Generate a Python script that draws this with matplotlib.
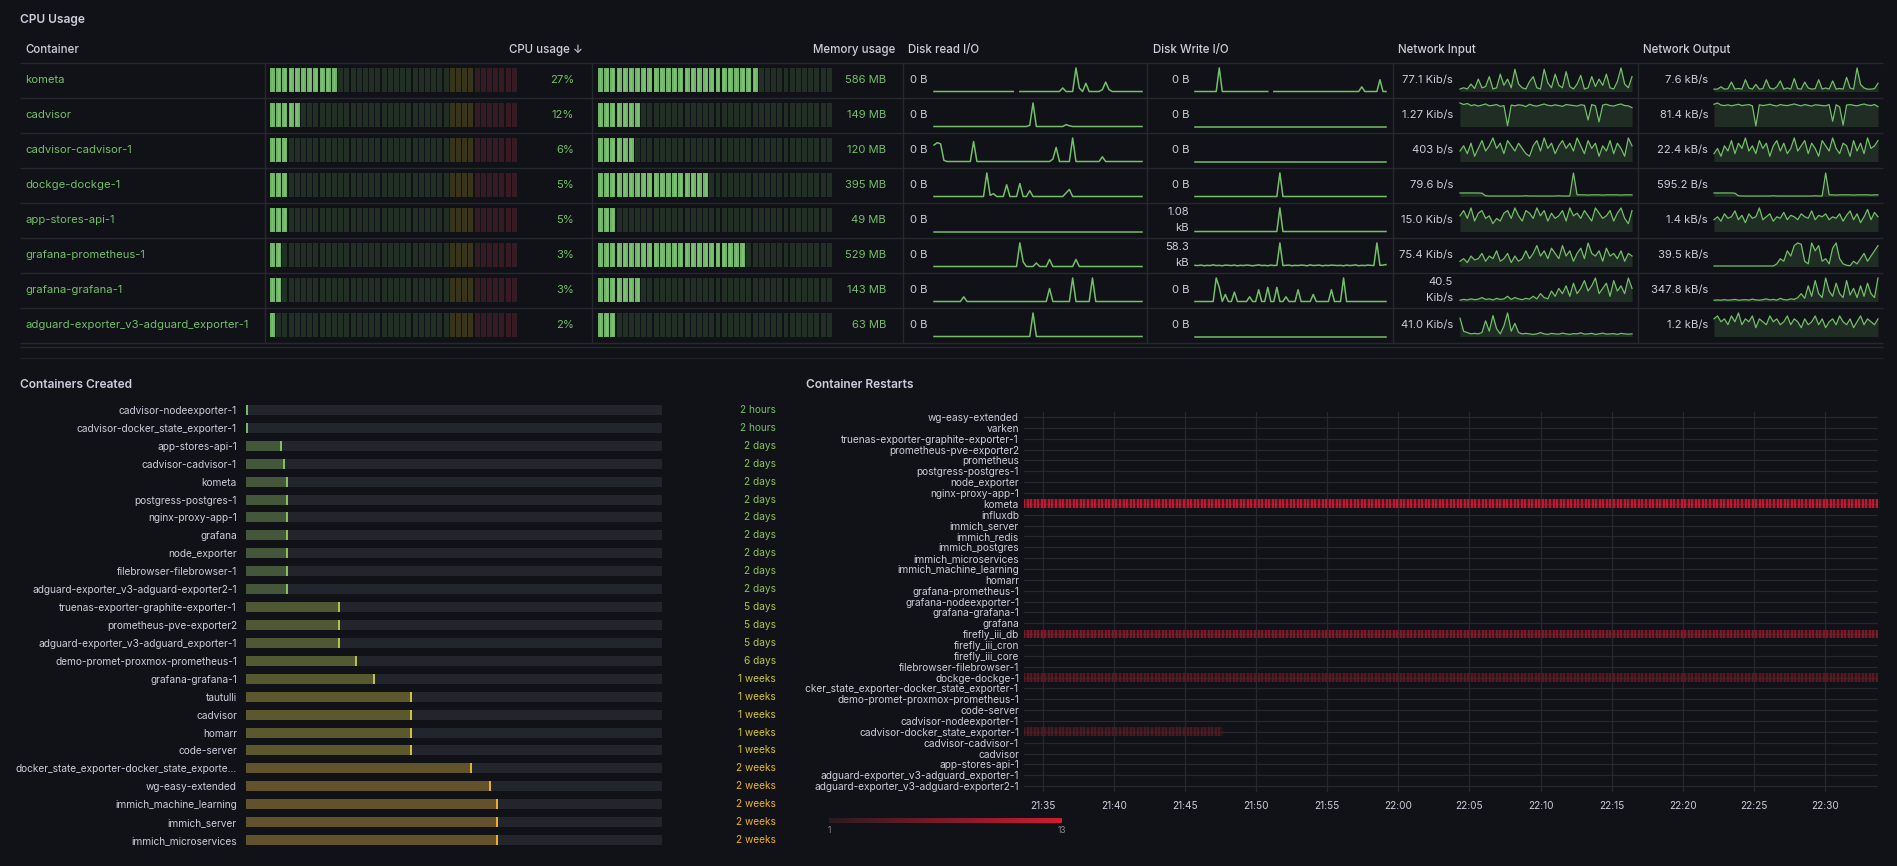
import matplotlib
matplotlib.use('Agg')
import matplotlib.pyplot as plt
import matplotlib.dates as mdates
from matplotlib.colors import LinearSegmentedColormap, Normalize
from matplotlib.cm import ScalarMappable
from matplotlib.transforms import Bbox, blended_transform_factory
import numpy as np

nan = np.nan

# ---------------- data: CPU Usage table ----------------
containers = ['kometa', 'cadvisor', 'cadvisor-cadvisor-1', 'dockge-dockge-1', 'app-stores-api-1',
              'grafana-prometheus-1', 'grafana-grafana-1', 'adguard-exporter_v3-adguard_exporter-1']
cpu_pct = [27, 12, 6, 5, 5, 3, 3, 2]
mem_mb = [586, 149, 120, 395, 49, 529, 143, 63]
mem_max_mb = 860
disk_read_txt = ['0 B', '0 B', '0 B', '0 B', '0 B', '0 B', '0 B', '0 B']
disk_write_txt = ['0 B', '0 B', '0 B', '0 B', '1.08\nkB', '58.3\nkB', '0 B', '0 B']
net_in_txt = ['77.1 Kib/s', '1.27 Kib/s', '403 b/s', '79.6 b/s', '15.0 Kib/s', '75.4 Kib/s',
              '40.5\nKib/s', '41.0 Kib/s']
net_out_txt = ['7.6 kB/s', '81.4 kB/s', '22.4 kB/s', '595.2 B/s', '1.4 kB/s', '39.5 kB/s',
               '347.8 kB/s', '1.2 kB/s']

disk_read = [
    [0,0,0,0,0,0,0,0,0,0,0,0,0,0,0,0, 0,0,0,0,0,0,0,0,0,nan,0,0,0,0,0,0,
     0,0,0,0,0,0,0,1.5,0,0,0,10,1.5,0,3.5,0, 0,0,0,0.8,4,0.8,0,0,0,0,0,0,0,0,0,0],
    [0,0,0,0,0,0,0,0,0,0,0,0,0,0,0,0, 0,0,0,0,0,0,0,0,0,0,0,0,0,0.5,10,0,
     0,0,0,0,0,0,0,0,0.8,0.3,0,0,0,0,0,0, 0,0,0,0,0,0,0,0,0,0,0,0,0,0,0,0],
    [7,8,7.5,0.5,0,0,0,0,0,0,0,0,8.5,0,0,0, 0,0,0,0,0,0,0,0,0,0,0,0,0,0,0,0,
     0,0,0,0,1,6,0,0,0,0,10,0,0,0,0,0, 0,0,0,2,0,0,0,0,0,0,0,0,0,0,0,0],
    [0,0,0,0,0,0,0,0,0,0,0,0,0,0,0,0, 10,0.5,1.2,0,0,0,5,0,0,0,5.5,0,0,2.5,0,0,
     0,0,0,0,0,0,0,0,1.5,3,0,0,0,0,0,0, 0,0,0,0,0,0,0,0,0,0,0,0,0,0,0,0],
    [0,0,0,0,0,0,0,0,0,0,0,0,0,0,0,0, 0,0,0,0,0,0,0,0,0,0,0,0,0,0,0,0,
     0,0,0,0,0,0,0,0,0,0,0,0,0,0,0,0, 0,0,0,0,0,0,0,0,0,0,0,0,0,0,0,0],
    [0,0,0,0,0,0,0,0,0,0,0,0,0,0,0,0, 0,0,0,0,0,0,0,0,0,0,10,2,0,0,0,1.5,
     0,0,0,3,0,0,0,0,0,0,0,3,0,0,0,0, 0,0,0,0,0,0,0,0,0,0,0,0,0,0,0,0],
    [0,0,0,0,0,0,0,0,0,2,0,0,0,0,0,0, 0,0,0,0,0,0,0,0,0,0,0,0,0,0,0,0,
     0,0,0,5.5,0,0,0,0,0,0,10,0,0,0,0,0, 10,0,0,0,0,0,0,0,0,0,0,0,0,0,0,0],
    [0,0,0,0,0,0,0,0,0,0,0,0,0,0,0,0, 0,0,0,0,0,0,0,0,0,0,0,0,0,0,10,0,
     0,0,0,0,0,0,0,0,0,0,0,0,0,0,0,0, 0,0,0,0,0,0,0,0,0,0,0,0,0,0,0,0],
]
disk_write = [
    [0,0,0,0,0,0,0,0,10,0,0,0,0,0,0,0, 0,0,0,0,0,0,0,0,0,nan,0,0,0,0,0,0,
     0,0,0,0,0,0,0,0,0,0,0,0,0,0,0,0, 0,0,0,0,0,0,0,2,0,0,0,0,0,5,0,0],
    [0,0,0,0,0,0,0,0,0,0,0,0,0,0,0,0, 0,0,0,0,0,0,0,0,0,0,0,0,0,0,0,0,
     0,0,0,0,0,0,0,0,0,0,0,0,0,0,0,0, 0,0,0,0,0,0,0,0,0,0,0,0,0,0,0,0],
    [0,0,0,0,0,0,0,0,0,0,0,0,0,0,0,0, 0,0,0,0,0,0,0,0,0,0,0,0,0,0,0,0,
     0,0,0,0,0,0,0,0,0,0,0,0,0,0,0,0, 0,0,0,0,0,0,0,0,0,0,0,0,0,0,0,0],
    [0,0,0,0,0,0,0,0,0,0,0,0,0,0,0,0, 0,0,0,0,0,0,0,0,0,0,0,0,10,0,0,0,
     0,0,0,0,0,0,0,0,0,0,0,0,0,0,0,0, 0,0,0,0,0,0,0,0,0,0,0,0,0,0,0,0],
    [0,0,0,0,0,0,0,0,0,0,0,0,0,0,0,0, 0,0,0,0,0,0,0,0,0,0,0,0,10,0,0,0,
     0,0,0,0,0,0,0,0,0,0,0,0,0,0,0,0, 0,0,0,0,0,0,0,0,0,0,0,0,0,0,0,0],
    [.5,.4,.6,.3,.5,.4,.7,.4,.5,.3,.6,.5,.4,.6,.3,.5, .4,.6,.5,.3,.5,.7,.4,.5,.3,.6,.4,.5,10,.4,.5,.6,
     .3,.5,.4,.6,.5,.3,.7,.4,.5,.6,.3,.5,.4,.6,.5,.4, .5,.3,.6,.4,.5,.7,.3,.5,.4,.6,.5,.4,10,.5,.6,.8],
    [0,0,0,0,0,0,0,10,6,0,3,0,0,4,0,0, 0,0,2,0,0,5,0,0,6,0,0,6,0,0,2,0,
     0,0,5,0,0,0,0,3,0,0,0,0,0,5,0,0, 0,10,0,0,0,0,0,0,0,0,0,0,0,0,0,0],
    [0,0,0,0,0,0,0,0,0,0,0,0,0,0,0,0, 0,0,0,0,0,0,0,0,0,0,0,0,0,0,0,0,
     0,0,0,0,0,0,0,0,0,0,0,0,0,0,0,0, 0,0,0,0,0,0,0,0,0,0,0,0,0,0,0,0],
]
net_in = [
    [1,1.5,1,3,1.2,5,1.5,2,6,1,1.5,7,2.5,5,1.5,9,3,1.5,1,4,6,1.5,1,9,3.5,1.5,7,2.5,1.5,8,2,1,
     3,6.5,1,1.5,6,2,5,2.5,7,1.5,1,4,9.5,3,1.5,6],
    [9,8.4,8.8,8,8.3,7.8,8.2,8.6,7.9,8.1,8.4,7.7,8,0.3,8.2,7.9,8.3,8.1,7.6,8.5,8,7.8,8.2,8.6,
     8.1,7.9,8.3,8,7.7,8.4,8.2,8,7.8,8.3,8.1,2.5,8.4,7.9,1.8,8.2,8.5,8,7.8,8.3,8.6,8,7.9,7.2],
    [4,6,3,7,2,5,8,4,6,9,5,7,3,8,6,4,7,5,3,2,6,8,4,9,5,7,3,6,8,5,7,4,9,6,3,8,5,7,2,6,4,8,3,7,5,2,9,6],
    [1.5,1.5,1.5,1.5,1.5,1.5,1.4,0.3,0.2,0.2,0.2,0.2,0.2,0.2,0.2,0.2,0.2,0.2,0.3,0.2,0.2,0.2,0.2,0.2,
     0.2,0.2,0.2,0.3,0.2,0.2,0.2,10,0.7,0.7,0.7,0.6,0.7,0.7,0.7,0.6,0.7,0.7,0.7,0.7,0.6,0.7,0.7,0.7],
    [6,8,5,9,4,7,8,5,6,3,5,4,7,8,5,9,6,4,8,7,5,9,6,8,4,7,5,6,8,4,9,6,7,5,8,6,4,9,7,5,6,8,4,7,9,5,3,8],
    [2,3,1.5,4,2.5,3,5,2,4,3,6,2,3,5,1.5,4,2,3,6,3,5,8,4,6,3,7,5,3,8,4,6,2,5,7,3,9,5,4,6,2,7,4,5,3,6,2,5,4],
    [0.5,0.8,0.6,1,0.7,0.9,1.5,0.8,1,0.6,1.2,0.8,1,2,0.8,1.5,1,0.7,1.2,0.9,2,1,3,1.5,
     1,4,2,5,3,6,2,7,3,5,8,4,6,9,3,5,7,2,8,4,6,3,9,5],
    [7,2,1.5,1,1.2,1,1.5,6,2,8,3,1,4,9,2,5,1.5,1,1.2,1,0.8,1,1.5,1,
     0.8,1.2,1,0.9,1.3,1,0.8,1.1,1,1.4,0.9,1,1.2,0.8,1,1.3,0.9,1,1.1,0.8,1.2,1,0.9,1],
]
net_out = [
    [1,1,2,1,1.2,4,1,1.3,1,5,1.5,1,3,1,1.2,5,1.5,1,2,4.5,1,1.5,1,5.5,1.2,1,4,1.5,1,1.2,5,1,
     1.5,1,4.5,1,1.3,1,6,1.5,1,10,3,1.5,1,1,1.2,3.5],
    [8.5,9,8.2,8,8.3,7.9,8.2,8.5,8,8.2,8.4,7.9,0.2,8.3,8,8.2,8.5,8.1,7.8,8.4,8.1,8,8.3,8.6,
     8.2,7.9,8.4,8.1,7.8,8.3,8.2,8,7.9,8.4,2,8.3,7.5,0.5,8.2,8.4,8.1,7.9,8.3,8.6,8.2,8,8.4,7.6],
    [3,5,2,6,4,8,3,7,5,9,4,6,3,8,5,7,2,6,8,4,7,3,5,9,4,6,8,3,7,5,2,8,6,4,9,5,3,7,6,2,8,4,7,3,9,5,6,8],
    [1.5,1.5,1.5,1.5,1.5,1.5,1.4,0.3,0.2,0.2,0.2,0.2,0.2,0.2,0.2,0.2,0.2,0.3,0.2,0.2,0.2,0.2,0.2,0.2,
     0.2,0.2,0.2,0.2,0.2,0.3,0.2,0.2,10,0.7,0.7,0.6,0.7,0.7,0.7,0.7,0.6,0.7,0.7,0.7,0.7,0.6,0.7,0.7],
    [4,5,3.5,6,4.5,5,7,4,5.5,3,6,4.5,5,8,4,5,6,3.5,5,4.5,6.5,4,5.5,5,
     4,6,5,4.5,7,4,5.5,5,6,4,5,4.5,6,3.5,5.5,7,4,6,3,5,7.5,4,6.5,5],
    [0.2,0.2,0.2,0.2,0.2,0.2,0.2,0.2,0.2,0.2,0.2,0.2,0.2,0.2,0.2,0.2,0.2,0.2,
     1,3,2,6,4,8,9,8.5,2,1,9,6,8,2,3,1,7,9,3,1,0.5,0.3,2,1,3,5,2,4,6,8],
    [0.5,0.6,0.5,0.7,0.5,0.6,0.8,0.5,0.6,0.7,0.5,0.9,0.6,0.5,0.7,1,0.6,0.8,0.5,1.2,0.7,0.6,1,0.8,
     1.5,3,1.2,6,2,8,3,1.5,9,4,2,7,3,1.5,8,2.5,5,1.5,6,2,7,3,1.5,9],
    [6,7,5,6,4,7,5,8,4,6,5,7,3,6,5,4,7,5,6,4,5,7,4,6,5,3,6,4,5,7,4,6,3,5,6,4,7,5,4,6,3,5,7,4,6,5,4,6],
]

# ---------------- data: Containers Created ----------------
created_names = ['cadvisor-nodeexporter-1', 'cadvisor-docker_state_exporter-1', 'app-stores-api-1',
                 'cadvisor-cadvisor-1', 'kometa', 'postgress-postgres-1', 'nginx-proxy-app-1', 'grafana',
                 'node_exporter', 'filebrowser-filebrowser-1', 'adguard-exporter_v3-adguard-exporter2-1',
                 'truenas-exporter-graphite-exporter-1', 'prometheus-pve-exporter2',
                 'adguard-exporter_v3-adguard_exporter-1', 'demo-promet-proxmox-prometheus-1',
                 'grafana-grafana-1', 'tautulli', 'cadvisor', 'homarr', 'code-server',
                 'docker_state_exporter-docker_state_exporte...', 'wg-easy-extended',
                 'immich_machine_learning', 'immich_server', 'immich_microservices']
created_age_days = [0.08, 0.08, 1.9, 2.1, 2.25, 2.25, 2.25, 2.25, 2.25, 2.25, 2.25,
                    5.1, 5.1, 5.1, 6.0, 7.0, 9.0, 9.0, 9.0, 9.0, 12.3, 13.3, 13.7, 13.7, 13.7]
created_labels = ['2 hours', '2 hours', '2 days', '2 days', '2 days', '2 days', '2 days', '2 days',
                  '2 days', '2 days', '2 days', '5 days', '5 days', '5 days', '6 days', '1 weeks',
                  '1 weeks', '1 weeks', '1 weeks', '1 weeks', '2 weeks', '2 weeks', '2 weeks',
                  '2 weeks', '2 weeks']
created_axis_max = 22.7

# ---------------- data: Container Restarts ----------------
restart_names = ['wg-easy-extended', 'varken', 'truenas-exporter-graphite-exporter-1',
                 'prometheus-pve-exporter2', 'prometheus', 'postgress-postgres-1', 'node_exporter',
                 'nginx-proxy-app-1', 'kometa', 'influxdb', 'immich_server', 'immich_redis',
                 'immich_postgres', 'immich_microservices', 'immich_machine_learning', 'homarr',
                 'grafana-prometheus-1', 'grafana-nodeexporter-1', 'grafana-grafana-1', 'grafana',
                 'firefly_iii_db', 'firefly_iii_cron', 'firefly_iii_core', 'filebrowser-filebrowser-1',
                 'dockge-dockge-1', 'docker_state_exporter-docker_state_exporter-1',
                 'demo-promet-proxmox-prometheus-1', 'code-server', 'cadvisor-nodeexporter-1',
                 'cadvisor-docker_state_exporter-1', 'cadvisor-cadvisor-1', 'cadvisor', 'app-stores-api-1',
                 'adguard-exporter_v3-adguard_exporter-1', 'adguard-exporter_v3-adguard-exporter2-1']
restart_series = [  # container, restart count, first sample, last sample
    ('kometa', 13, '2024-05-01T21:33:40', '2024-05-01T22:33:44'),
    ('firefly_iii_db', 8, '2024-05-01T21:33:40', '2024-05-01T22:33:44'),
    ('dockge-dockge-1', 5, '2024-05-01T21:33:40', '2024-05-01T22:33:44'),
    ('cadvisor-docker_state_exporter-1', 4, '2024-05-01T21:33:40', '2024-05-01T21:47:30'),
]
sample_step_s = 15
time_start, time_end = '2024-05-01T21:33:40', '2024-05-01T22:33:44'

# ---------------- style ----------------
W, H = 1897, 866
BG = '#111217'
TXT = '#ccccdc'
GREEN = '#73bf69'
LINE = '#26282e'

plt.rcParams['font.family'] = ['Inter', 'DejaVu Sans']

fig = plt.figure(figsize=(W / 100, H / 100), dpi=100, facecolor=BG)


def px_axes(x0, y0, x1, y1):
    a = fig.add_axes([x0 / W, 1 - y1 / H, (x1 - x0) / W, (y1 - y0) / H])
    a.set_facecolor('none')
    return a


bg = px_axes(0, 0, W, H)
bg.set_xlim(0, W)
bg.set_ylim(H, 0)
bg.axis('off')

# ---------------- CPU Usage table ----------------
ROW0, ROWH = 62.5, 35.0
nrows = len(containers)
bg.text(20, 20, 'CPU Usage', fontsize=8.6, color=TXT, fontweight='semibold', va='center')
hdr = dict(fontsize=8.3, color=TXT, va='center', fontweight='medium')
bg.text(25, 50, 'Container', ha='left', **hdr)
bg.text(583, 50, 'CPU usage ↓', ha='right', **hdr)
bg.text(895, 50, 'Memory usage', ha='right', **hdr)
bg.text(908, 50, 'Disk read I/O', ha='left', **hdr)
bg.text(1153, 50, 'Disk Write I/O', ha='left', **hdr)
bg.text(1398, 50, 'Network Input', ha='left', **hdr)
bg.text(1643, 50, 'Network Output', ha='left', **hdr)

bg.hlines([ROW0 + ROWH * k for k in range(nrows + 1)], 20, 1883, color=LINE, lw=1)
bg.hlines(347, 20, 1883, color=LINE, lw=1)
bg.hlines(358, 20, 1883, color='#1d1f24', lw=1)
bg.vlines([264.5, 592, 903, 1147, 1393, 1638], ROW0, ROW0 + ROWH * nrows, color=LINE, lw=1)

cell = dict(fontsize=8.1, va='center')
for k in range(nrows):
    yc = ROW0 + ROWH * (k + 0.5)
    bg.text(25, yc, containers[k], ha='left', color=GREEN, **cell)
    bg.text(574, yc, f'{cpu_pct[k]}%', ha='right', color=GREEN, **cell)
    bg.text(886, yc, f'{mem_mb[k]} MB', ha='right', color=GREEN, **cell)
    bg.text(927, yc, disk_read_txt[k], ha='right', color=TXT, **cell)
    bg.text(1189, yc, disk_write_txt[k], ha='right', color=TXT, linespacing=1.7,
            multialignment='right', **cell)
    bg.text(1453, yc, net_in_txt[k], ha='right', color=TXT, linespacing=1.7,
            multialignment='right', **cell)
    bg.text(1708, yc, net_out_txt[k], ha='right', color=TXT, **cell)


def lcd_gauge(x0, x1, values, vmax, ncells, thresholds):
    ax = px_axes(x0, ROW0, x1, ROW0 + ROWH * nrows)
    ax.set_xlim(0, vmax)
    ax.set_ylim(nrows - 0.5, -0.5)
    ax.axis('off')
    step = vmax / ncells
    for k, v in enumerate(values):
        lit = int(v // step) + 1
        for i in range(ncells):
            start = i * step
            base = GREEN
            for thr, c in thresholds:
                if start >= thr:
                    base = c
            on = i < lit
            ax.barh(k, step * 0.8, left=start, height=24 / ROWH, color=base,
                    alpha=0.95 if on else 0.17, lw=0)
            if on:
                # lighter core of a lit cell
                ax.barh(k, step * 0.3, left=start + step * 0.25, height=22 / ROWH,
                        color='#9ad98f', alpha=0.35, lw=0)
    return ax


lcd_gauge(270, 518, cpu_pct, 100, 40, [(72.5, '#fade2a'), (82.5, '#f2495c')])
lcd_gauge(598, 833, mem_mb, mem_max_mb, 38, [])

spark_cols = [(934, 1142, disk_read, False), (1195, 1386, disk_write, False),
              (1460, 1632, net_in, True), (1714, 1878, net_out, True)]
for x0, x1, series, filled in spark_cols:
    for k, vals in enumerate(series):
        top = ROW0 + ROWH * k
        ax = px_axes(x0, top + 5, x1, top + 29)
        vals = np.asarray(vals, float)
        xs = np.arange(len(vals))
        ax.plot(xs, vals, color=GREEN, lw=0.9 if filled else 1.1, clip_on=False)
        if filled:
            ax.fill_between(xs, vals, color=GREEN, alpha=0.16, lw=0)
        top_v = np.nanmax(vals)
        ax.set_xlim(0, len(vals) - 1)
        ax.set_ylim(0, top_v * 1.02 if top_v > 0 else 1)
        ax.axis('off')

# ---------------- Containers Created ----------------
bg.text(20, 385, 'Containers Created', fontsize=8.6, color=TXT, fontweight='semibold', va='center')
age_cmap = LinearSegmentedColormap.from_list('age', [(0, GREEN), (0.55, '#cfc934'), (1, '#f0b02c')])
cax_ = px_axes(246, 401, 662, 849)
ny = len(created_names)
ys = np.arange(ny)
end_cols = [age_cmap(min(a / 14, 1)) for a in created_age_days]
cax_.barh(ys, [created_axis_max] * ny, height=0.56, color='#22252b', lw=0)
cax_.barh(ys, created_age_days, height=0.56, color=end_cols, alpha=0.32, lw=0)
cax_.vlines(created_age_days, ys - 0.28, ys + 0.28, colors=end_cols, lw=1.4)
cax_.set_xlim(0, created_axis_max)
cax_.set_ylim(ny - 0.5, -0.5)
cax_.set_yticks(ys, labels=created_names)
cax_.set_xticks([])
cax_.tick_params(axis='y', length=0, pad=6.5, labelsize=7.3, labelcolor=TXT)
for s in cax_.spines.values():
    s.set_visible(False)
tr = blended_transform_factory(cax_.transAxes, cax_.transData)
for k in range(ny):
    cax_.text((776 - 246) / (662 - 246), k, created_labels[k], transform=tr, ha='right',
              va='center', fontsize=7.3, color=end_cols[k])

# ---------------- Container Restarts ----------------
bg.text(806, 385, 'Container Restarts', fontsize=8.6, color=TXT, fontweight='semibold', va='center')
red_cmap = LinearSegmentedColormap.from_list('restarts', ['#2a1a1f', '#d01a30'])
norm = Normalize(1, 13)
rax = px_axes(1024, 411.5, 1878, 791.5)
nr = len(restart_names)
for name, count, t_a, t_b in restart_series:
    row = restart_names.index(name)
    times = np.arange(np.datetime64(t_a), np.datetime64(t_b), np.timedelta64(sample_step_s, 's'))
    tnum = mdates.date2num(times)
    col = red_cmap(norm(count))
    rax.barh(row, tnum[-1] - tnum[0] + sample_step_s / 86400, left=tnum[0], height=0.8,
             color=col, alpha=0.35, lw=0, zorder=2)
    rax.vlines(tnum, row - 0.4, row + 0.4, colors=[col], lw=1.2, zorder=3)

rax.set_xlim(mdates.date2num(np.datetime64(time_start)), mdates.date2num(np.datetime64(time_end)))
rax.set_ylim(nr - 0.5, -0.5)
rax.set_yticks(np.arange(nr), labels=restart_names)
rax.xaxis.set_major_locator(mdates.MinuteLocator(byminute=range(0, 60, 5)))
rax.xaxis.set_major_formatter(mdates.DateFormatter('%H:%M'))
rax.tick_params(axis='y', length=0, pad=3.6, labelsize=7.3, labelcolor=TXT)
rax.tick_params(axis='x', length=0, pad=7, labelsize=7.3, labelcolor=TXT)
rax.grid(True, color=LINE, lw=0.9, zorder=0)
rax.set_axisbelow(True)
for s in rax.spines.values():
    s.set_visible(False)
clip = Bbox.from_extents(805, 0, 1024, H)
for lab in rax.get_yticklabels():
    lab.set_clip_on(True)
    lab.set_clip_box(clip)

# legend gradient
lax = px_axes(829, 818, 1062, 823)
cb = fig.colorbar(ScalarMappable(norm=norm, cmap=red_cmap), cax=lax, orientation='horizontal',
                  ticks=[1, 13])
cb.outline.set_visible(False)
lax.tick_params(length=0, labelsize=6, labelcolor='#8e8e8e', pad=2)

fig.savefig('out.png', dpi=100, facecolor=BG)
